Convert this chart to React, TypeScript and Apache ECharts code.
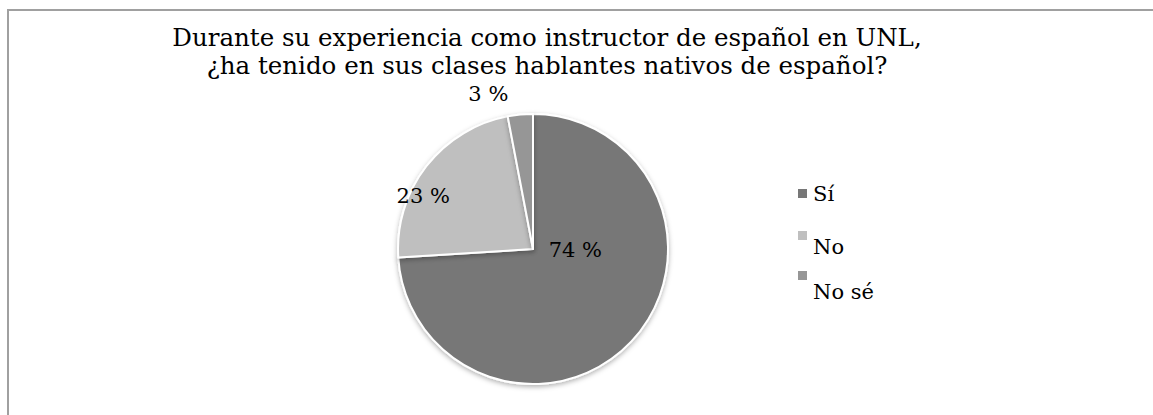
import React, { useEffect, useRef } from "react";
import * as echarts from "echarts";

const titleLines = [
  "Durante su experiencia como instructor de español en UNL,",
  "¿ha tenido en sus clases hablantes nativos de español?",
];
const categories = ["Sí", "No", "No sé"];
const values = [74, 23, 3];
const colors = ["#777777", "#bfbfbf", "#969696"];

// label nudges relative to ECharts' default inside position (px)
const labelShift = [
  [-9, -47],
  [-54, -10],
  [-38, -85],
];
// legend placement: top of each item and height of its (mostly transparent) icon box
const legendTops = [183, 229, 269];
const legendBoxH = [11, 34, 43];

export default function App() {
  const ref = useRef<HTMLDivElement>(null);
  useEffect(() => {
    if (!ref.current) return;
    const chart = echarts.init(ref.current, null, { renderer: "svg" });
    const font = "DejaVu Serif";
    const legends = categories.map((c, i) => ({
      orient: "vertical",
      left: 796,
      top: legendTops[i],
      padding: 0,
      itemWidth: 11,
      itemHeight: legendBoxH[i],
      itemGap: 0,
      selectedMode: false,
      icon:
        legendBoxH[i] === 11
          ? "rect"
          : `path://M0,0h11v11h-11zM0,${legendBoxH[i] - 0.01}h0.01v0.01h-0.01z`,
      textStyle: { fontFamily: font, fontSize: 21, color: "#000" },
      data: [c],
    }));
    const titles = titleLines.map((t, i) => ({
      text: t,
      left: 547,
      top: 23 + i * 28.5,
      padding: 0,
      textAlign: "center",
      textStyle: {
        fontFamily: font,
        fontSize: 24.5,
        fontWeight: "normal",
        color: "#000",
        lineHeight: 28,
      },
    }));
    chart.setOption({
      animation: false,
      backgroundColor: "#ffffff",
      graphic: [
        {
          type: "rect",
          shape: { x: 8, y: 10, width: 1300, height: 600 },
          style: { fill: "none", stroke: "#a0a0a0", lineWidth: 2 },
          silent: true,
        },
      ],
      title: titles,
      legend: legends,
      series: [
        {
          type: "pie",
          center: [533, 249],
          radius: 135,
          startAngle: 90,
          clockwise: true,
          avoidLabelOverlap: false,
          itemStyle: {
            borderColor: "#ffffff",
            borderWidth: 2,
            shadowBlur: 5,
            shadowOffsetY: 2,
            shadowColor: "rgba(0,0,0,0.3)",
          },
          label: {
            show: true,
            position: "inside",
            formatter: "{c} %",
            fontFamily: font,
            fontSize: 21,
            color: "#000",
          },
          labelLine: { show: false },
          emphasis: { disabled: true },
          labelLayout: (p: any) => ({
            dx: labelShift[p.dataIndex][0],
            dy: labelShift[p.dataIndex][1],
          }),
          data: categories.map((c, i) => ({
            name: c,
            value: values[i],
            itemStyle: { color: colors[i] },
          })),
        },
      ],
    });
    return () => chart.dispose();
  }, []);
  return (
    <div
      ref={ref}
      style={{ position: "absolute", left: 0, top: 0, width: 1153, height: 415 }}
    />
  );
}
